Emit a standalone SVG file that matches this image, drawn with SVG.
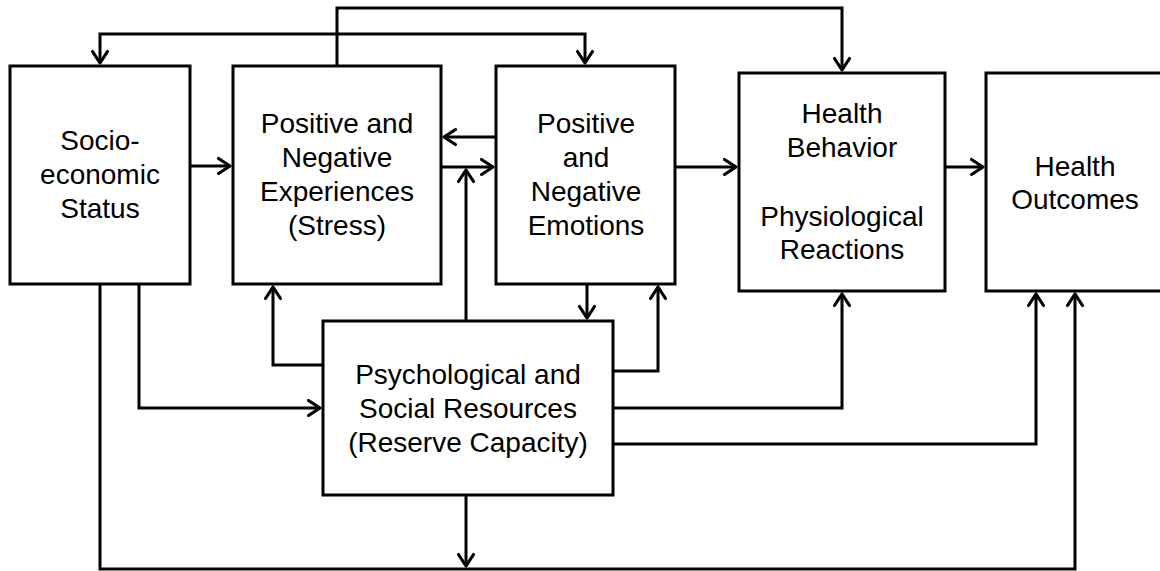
<svg xmlns="http://www.w3.org/2000/svg" width="1160" height="571" viewBox="0 0 1160 571">
  <style>
    .box { fill: #ffffff; stroke: #000000; stroke-width: 3; }
    .lbl { font-family: "Liberation Sans", Arial, sans-serif; font-size: 28px; fill: #000000; text-anchor: middle; }
    .con { fill: none; stroke: #000000; stroke-width: 3; stroke-linejoin: miter; }
  </style>
  <defs>
    <marker id="arr" viewBox="0 0 14 16" refX="12" refY="8" markerWidth="14" markerHeight="16" markerUnits="userSpaceOnUse" orient="auto-start-reverse" overflow="visible">
      <path d="M0.5,0.5 L12,8 L0.5,15.5" fill="none" stroke="#000000" stroke-width="3.2" stroke-linejoin="round" stroke-linecap="round"/>
    </marker>
  </defs>
  <rect width="1160" height="571" fill="#ffffff"/>

  <g id="connectors">
    <path class="con" d="M190,166 H230" marker-end="url(#arr)"/>
    <path class="con" d="M441,167 H493" marker-end="url(#arr)"/>
    <path class="con" d="M496,137 H444" marker-end="url(#arr)"/>
    <path class="con" d="M466,321 V170" marker-end="url(#arr)"/>
    <path class="con" d="M675,167 H736" marker-end="url(#arr)"/>
    <path class="con" d="M945,167 H983" marker-end="url(#arr)"/>
    <path class="con" d="M337,66 V8 H842 V70" marker-end="url(#arr)"/>
    <path class="con" d="M100,63 V34 H585 V63" marker-start="url(#arr)" marker-end="url(#arr)"/>
    <path class="con" d="M139,284 V408 H320" marker-end="url(#arr)"/>
    <path class="con" d="M323,365 H273 V287" marker-end="url(#arr)"/>
    <path class="con" d="M587,284 V318" marker-end="url(#arr)"/>
    <path class="con" d="M613,371 H658 V287" marker-end="url(#arr)"/>
    <path class="con" d="M613,408 H842 V294" marker-end="url(#arr)"/>
    <path class="con" d="M613,444 H1036 V294" marker-end="url(#arr)"/>
    <path class="con" d="M100,284 V569 H1075 V294" marker-end="url(#arr)"/>
    <path class="con" d="M466,495 V566" marker-end="url(#arr)"/>
  </g>

  <g id="ses">
    <rect class="box" x="10" y="66" width="180" height="218"/>
    <text class="lbl" x="100" y="150">Socio-</text>
    <text class="lbl" x="100" y="184">economic</text>
    <text class="lbl" x="100" y="218">Status</text>
  </g>
  <g id="experiences">
    <rect class="box" x="233" y="66" width="208" height="218"/>
    <text class="lbl" x="337" y="133">Positive and</text>
    <text class="lbl" x="337" y="167">Negative</text>
    <text class="lbl" x="337" y="201">Experiences</text>
    <text class="lbl" x="337" y="235">(Stress)</text>
  </g>
  <g id="emotions">
    <rect class="box" x="496" y="66" width="179" height="218"/>
    <text class="lbl" x="586" y="133">Positive</text>
    <text class="lbl" x="586" y="167">and</text>
    <text class="lbl" x="586" y="201">Negative</text>
    <text class="lbl" x="586" y="235">Emotions</text>
  </g>
  <g id="health-behavior">
    <rect class="box" x="739" y="73" width="206" height="218"/>
    <text class="lbl" x="842" y="123">Health</text>
    <text class="lbl" x="842" y="157">Behavior</text>
    <text class="lbl" x="842" y="226">Physiological</text>
    <text class="lbl" x="842" y="259">Reactions</text>
  </g>
  <g id="health-outcomes">
    <rect class="box" x="986" y="73" width="180" height="218"/>
    <text class="lbl" x="1075" y="176">Health</text>
    <text class="lbl" x="1075" y="209">Outcomes</text>
  </g>
  <g id="resources">
    <rect class="box" x="323" y="321" width="290" height="174"/>
    <text class="lbl" x="468" y="384">Psychological and</text>
    <text class="lbl" x="468" y="418">Social Resources</text>
    <text class="lbl" x="468" y="452">(Reserve Capacity)</text>
  </g>
</svg>
